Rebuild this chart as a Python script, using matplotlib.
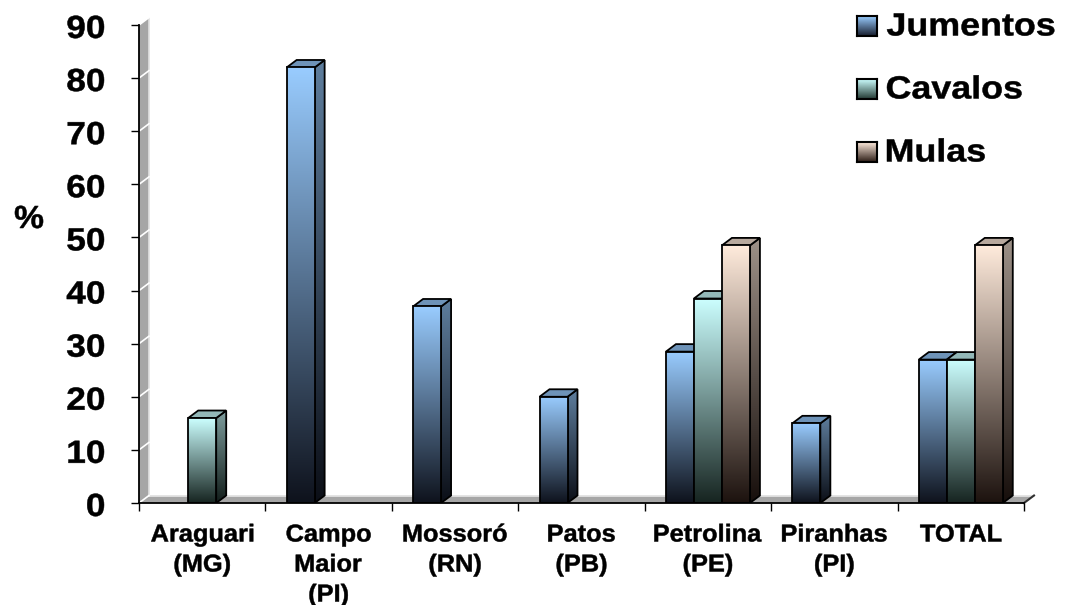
import numpy as np
import matplotlib
matplotlib.use('Agg')
import matplotlib.pyplot as plt
from matplotlib import font_manager as fm
from matplotlib.patches import Polygon, PathPatch
from matplotlib.textpath import TextPath
from matplotlib.transforms import Affine2D, IdentityTransform

bold_path = None
for f in fm.findSystemFonts():
    if f.endswith('LiberationSans-Bold.ttf'):
        bold_path = f
        break
if bold_path:
    BOLD = fm.FontProperties(fname=bold_path)
else:
    BOLD = fm.FontProperties(family='Liberation Sans', weight='bold')

categories = ['Araguari\n(MG)', 'Campo\nMaior\n(PI)', 'Mossoró\n(RN)', 'Patos\n(PB)',
              'Petrolina\n(PE)', 'Piranhas\n(PI)', 'TOTAL']
jumentos = [0, 82, 37, 20, 28.5, 15, 27]
cavalos = [16, 0, 0, 0, 38.5, 0, 27]
mulas = [0, 0, 0, 0, 48.5, 0, 48.5]
series_names = ['Jumentos', 'Cavalos', 'Mulas']
yticks = list(range(0, 91, 10))

# (top colour, bottom colour) of each gradient
grads = [
    (np.array([153, 204, 255]) / 255, np.array([14, 18, 28]) / 255),
    (np.array([204, 255, 255]) / 255, np.array([22, 36, 32]) / 255),
    (np.array([255, 235, 220]) / 255, np.array([28, 18, 14]) / 255),
]

W, H = 1067, 605
fig = plt.figure(figsize=(W / 100, H / 100), dpi=100)
ax = fig.add_axes([139 / W, 1 - 503 / H, 885 / W, 478 / H])
n = len(categories)

px_x = 885 / n
px_y = 478 / 90
dx = 10 / px_x      # depth of the 3d effect, in data units
dy = 7.5 / px_y
bw = 28 / px_x


def stext(x, base, s, size, ha='center', sx=1.1):
    """Bold text drawn as a path, slightly widened; x/base in pixels."""
    tp = TextPath((0, 0), s, size=size, prop=BOLD)
    bb = tp.get_extents()
    if ha == 'center':
        tx = x - (bb.x0 + bb.width / 2) * sx
    elif ha == 'right':
        tx = x - bb.x1 * sx
    else:
        tx = x - bb.x0 * sx
    path = Affine2D().scale(sx, 1).translate(tx, base).transform_path(tp)
    fig.add_artist(PathPatch(path, facecolor='black', edgecolor='black', lw=0.35,
                             transform=IdentityTransform()))


def grad_poly(verts, top, bottom, y0, y1, z):
    poly = Polygon(verts, closed=True, facecolor='none', edgecolor='black',
                   lw=1.3, zorder=z + 0.5)
    ax.add_patch(poly)
    g = np.linspace(0, 1, 256)[:, None, None]
    img = top * (1 - g) + bottom * g
    xs = [v[0] for v in verts]
    im = ax.imshow(img, extent=(min(xs), max(xs), y0, y1), origin='upper',
                   aspect='auto', interpolation='bilinear', zorder=z)
    im.set_clip_path(poly)
    return poly


# back wall and floor
ax.add_patch(Polygon([(0, 0), (dx, dy), (dx, 90 + dy), (0, 90)], closed=True,
                     facecolor='#a6a6a6', edgecolor='none', zorder=1, clip_on=False))
ax.plot([dx, dx], [dy, 90 + dy], color='#e0e0e0', lw=1.2, zorder=1.2, clip_on=False)
for v in yticks[1:]:
    ax.plot([0, dx], [v, v + dy], color='white', lw=1.2, zorder=1.3, clip_on=False)
ax.add_patch(Polygon([(0, 0), (n, 0), (n + dx, dy), (dx, dy)], closed=True,
                     facecolor='#a6a6a6', edgecolor='none', zorder=1, clip_on=False))
ax.plot([dx, n + dx], [dy, dy], color='#e8e8e8', lw=1.2, zorder=1.2, clip_on=False)
ax.plot([0, dx], [0, dy], color='white', lw=1.2, zorder=1.3, clip_on=False)
ax.plot([n, n + dx], [0, dy], color='#303030', lw=1.5, zorder=1.3, clip_on=False)

# bars, left to right so each front face covers the neighbour's side
z = 2
for i in range(n):
    vals = [jumentos[i], cavalos[i], mulas[i]]
    for k, h in enumerate(vals):
        if h <= 0:
            continue
        top, bottom = grads[k]
        x0 = i + 0.5 + (k - 1.5) * bw
        x1 = x0 + bw
        # side face
        grad_poly([(x1, 0), (x1 + dx, dy), (x1 + dx, h + dy), (x1, h)],
                  top * 0.62, bottom * 0.8, 0, h + dy, z)
        # top face
        ax.add_patch(Polygon([(x0, h), (x1, h), (x1 + dx, h + dy), (x0 + dx, h + dy)],
                             closed=True, facecolor=top * 0.72, edgecolor='black',
                             lw=1.3, zorder=z + 0.6, clip_on=False))
        # front face
        grad_poly([(x0, 0), (x1, 0), (x1, h), (x0, h)], top, bottom, 0, h, z + 1)
        z += 2

ax.set_xlim(0, n)
ax.set_ylim(0, 90)

for s in ['top', 'right']:
    ax.spines[s].set_visible(False)
for s in ['left', 'bottom']:
    ax.spines[s].set_linewidth(1.3)
    ax.spines[s].set_zorder(100)

ax.set_yticks(yticks)
ax.set_yticklabels([])
ax.tick_params(axis='y', direction='out', length=6, width=1)
ax.set_xticks(range(n + 1))
ax.set_xticklabels([])
ax.tick_params(axis='x', direction='out', length=6, width=1)

# tick labels, placed from the data transform
CAP = 0.716
ysize = 32
for v in yticks:
    _, ty = ax.transData.transform((0, v))
    stext(104, ty - 1.5 - ysize * CAP / 2, str(v), ysize, ha='right', sx=1.1)

xsize = 24.4
_, y_axis = ax.transData.transform((0, 0))
for i, lab in enumerate(categories):
    tx, _ = ax.transData.transform((i + 0.5, 0))
    for j, line in enumerate(lab.split('\n')):
        stext(tx, y_axis - 38.5 - 30 * j, line, xsize, ha='center', sx=1.04)

stext(29, H - 216 - 12, '%', 32, ha='center', sx=1.05)

# legend with gradient swatches
for k, name in enumerate(series_names):
    yc = [24, 87, 150][k]
    sw = fig.add_axes([857 / W, 1 - (yc + 12) / H, 20 / W, 20 / H])
    top, bottom = grads[k]
    g = np.linspace(0, 1, 64)[:, None, None]
    sw.imshow(np.clip(top * (1 - g) + bottom * g * 1.6, 0, 1), aspect='auto', origin='upper')
    sw.set_xticks([])
    sw.set_yticks([])
    for sp in sw.spines.values():
        sp.set_linewidth(1.5)
    stext(887, H - yc - 32 * CAP / 2, name, 32, ha='left', sx=1.12)

fig.savefig('out.png', dpi=100)
